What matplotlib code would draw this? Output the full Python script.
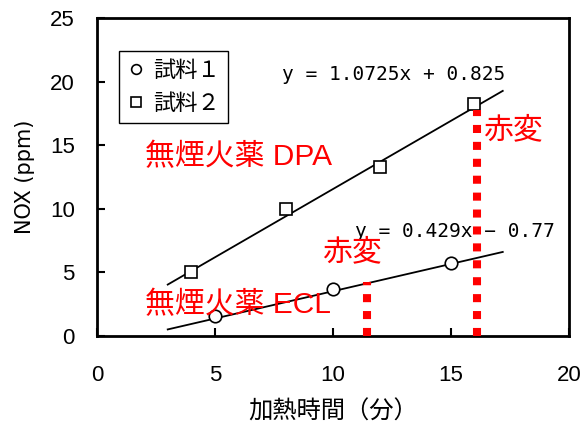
import matplotlib
matplotlib.use("Agg")
import matplotlib.pyplot as plt
import numpy as np
from matplotlib.lines import Line2D

plt.rcParams['font.family'] = ['Noto Sans CJK JP', 'DejaVu Sans']

# heating time (min) and NOx (ppm)
t1 = [5, 10, 15]
nox1 = [1.55, 3.7, 5.75]
t2 = [4, 8, 12, 16]
nox2 = [5.05, 10.0, 13.3, 18.25]

# linear fits
slope1, icpt1 = 0.429, -0.77
slope2, icpt2 = 1.0725, 0.825
fit_range = [3.0, 17.2]

# discoloration points (time, NOx)
red_t = [11.45, 16.1]
red_y = [4.25, 17.8]

series_labels = ['試料１', '試料２']
eq_labels = ['y = 0.429x \u2212 0.77', 'y = 1.0725x + 0.825']

fig = plt.figure(figsize=(5.84, 4.25), dpi=100)
ax = fig.add_axes([0.166, 0.2094, 0.808, 0.7482])

xs = np.array(fit_range)
ax.plot(xs, slope1 * xs + icpt1, color='black', lw=1.3, zorder=2)
ax.plot(xs, slope2 * xs + icpt2, color='black', lw=1.3, zorder=2)

ax.plot(t1, nox1, 'o', ms=9, mfc='white', mec='black', mew=1.2, zorder=3)
ax.plot(t2, nox2, 's', ms=9, mfc='white', mec='black', mew=1.2, zorder=3)

for xv, yv in zip(red_t, red_y):
    ax.plot([xv, xv], [0, yv], color='#ff0000', lw=5.8,
            linestyle=(0, (1.0, 1.1)), solid_capstyle='butt',
            dash_capstyle='butt', zorder=4)

ax.set_xlim(0, 20)
ax.set_ylim(0, 25)
ax.set_xticks([0, 5, 10, 15, 20])
ax.set_yticks([0, 5, 10, 15, 20, 25])
ax.tick_params(direction='in', length=6, width=1.5,
               labelsize=16, top=False, right=False)
ax.tick_params(axis='x', pad=21)
ax.tick_params(axis='y', pad=16)
for lab in ax.get_xticklabels() + ax.get_yticklabels():
    lab.set_family('Liberation Sans')
for sp in ax.spines.values():
    sp.set_linewidth(2.0)

ax.set_xlabel('加熱時間（分）', fontsize=17.5, labelpad=9)
ax.set_ylabel('NOX (ppm)', fontsize=15, labelpad=11, family='DejaVu Sans')

eq_font = dict(family='DejaVu Sans Mono', fontsize=14, color='black')
ax.text(7.84, 20.55, eq_labels[1], va='center', ha='left', **eq_font)
ax.text(10.93, 8.19, eq_labels[0], va='center', ha='left', **eq_font)

red_font = dict(color='#ff0000', fontsize=21.5,
                family=['Liberation Sans', 'Noto Sans CJK JP'])
ax.text(2.03, 14.1, '無煙火薬 DPA', va='center', ha='left', **red_font)
ax.text(2.03, 2.44, '無煙火薬 ECL', va='center', ha='left', **red_font)
ax.text(9.53, 6.6, '赤変', va='center', ha='left', **red_font)
ax.text(16.36, 16.2, '赤変', va='center', ha='left', **red_font)

handles = [
    Line2D([], [], marker='o', ls='none', ms=7, mfc='white', mec='black', mew=1.2),
    Line2D([], [], marker='s', ls='none', ms=7, mfc='white', mec='black', mew=1.2),
]
leg = ax.legend(handles, series_labels, loc='upper left',
                bbox_to_anchor=(0.0466, 0.896), fontsize=16, frameon=True,
                fancybox=False, edgecolor='black', framealpha=1,
                handlelength=0.8, handletextpad=0.4, borderpad=0.35,
                labelspacing=0.45, borderaxespad=0)
leg.get_frame().set_linewidth(1.0)

fig.savefig('out.png', dpi=100)
